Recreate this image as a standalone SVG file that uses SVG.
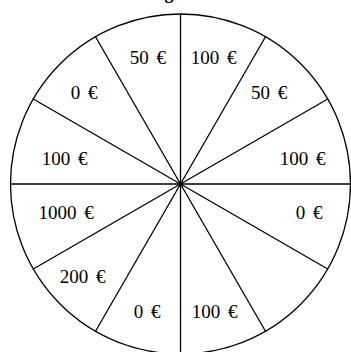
<svg xmlns="http://www.w3.org/2000/svg" width="351" height="352" viewBox="0 0 351 352">
<style>
.ln{stroke:#000;stroke-width:1.3;fill:none}
.lb{font-family:"Liberation Serif","Times New Roman",serif;font-size:19px;fill:#000;text-anchor:middle;word-spacing:3px}
.tt{font-family:"Liberation Serif","Times New Roman",serif;font-size:18px;font-weight:bold;fill:#000;text-anchor:middle}
</style>
<rect width="351" height="352" fill="#fff"/>
<text class="tt" x="169" y="-1">g</text>
<g id="wheel">
<circle class="ln" cx="180.5" cy="184" r="170"/>
</g>
<g id="spokes">
<line class="ln" x1="180.5" y1="14" x2="180.5" y2="354"/>
<line class="ln" x1="265.5" y1="36.78" x2="95.5" y2="331.22"/>
<line class="ln" x1="327.72" y1="99" x2="33.28" y2="269"/>
<line class="ln" x1="350.5" y1="184" x2="10.5" y2="184"/>
<line class="ln" x1="327.72" y1="269" x2="33.28" y2="99"/>
<line class="ln" x1="265.5" y1="331.22" x2="95.5" y2="36.78"/>
</g>
<g id="labels">
<text id="s1" class="lb" x="147.8" y="64">50 €</text>
<text id="s2" class="lb" x="213.5" y="64">100 €</text>
<text id="s3" class="lb" x="84.2" y="98.5">0 €</text>
<text id="s4" class="lb" x="269" y="98.5">50 €</text>
<text id="s5" class="lb" x="64.5" y="165">100 €</text>
<text id="s6" class="lb" x="302.5" y="165">100 €</text>
<text id="s7" class="lb" x="66.2" y="219">1000 €</text>
<text id="s8" class="lb" x="309" y="219">0 €</text>
<text id="s9" class="lb" x="82.7" y="282.5">200 €</text>
<text id="s10" class="lb" x="147.2" y="317.5">0 €</text>
<text id="s11" class="lb" x="214.7" y="317.5">100 €</text>
</g>
</svg>
